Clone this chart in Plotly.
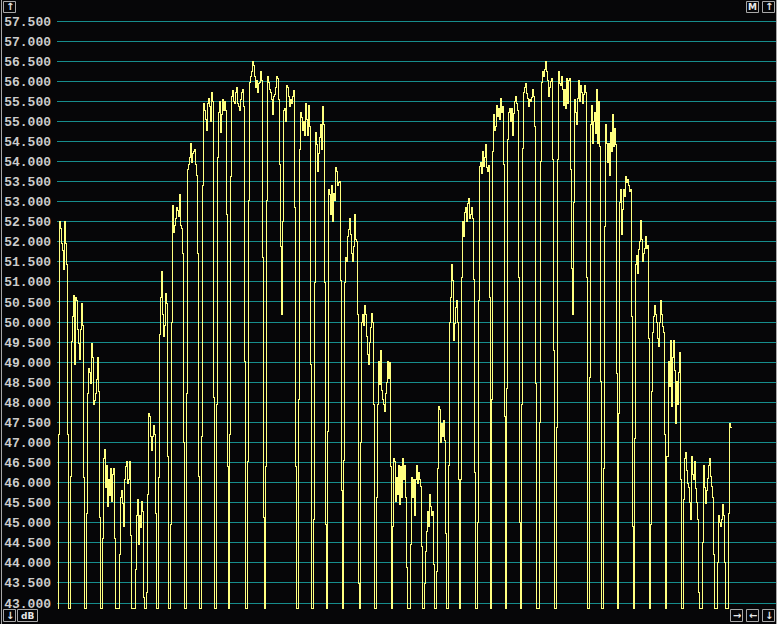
import plotly.graph_objects as go

# ---------------- data ----------------
FLOOR = 42.87          # level the trace falls to between bursts
N_CHANNELS = 674       # number of sample channels drawn

tick_values = [43.0, 43.5, 44.0, 44.5, 45.0, 45.5, 46.0, 46.5, 47.0, 47.5,
               48.0, 48.5, 49.0, 49.5, 50.0, 50.5, 51.0, 51.5, 52.0, 52.5,
               53.0, 53.5, 54.0, 54.5, 55.0, 55.5, 56.0, 56.5, 57.0, 57.5]

burst_start = [1, 13, 29, 45, 62, 78, 89, 101, 113, 129, 144, 159, 172, 190,
               208, 241, 256, 270, 286, 303, 319, 335, 353, 367, 379, 391,
               403, 420, 434, 449, 464, 482, 499, 532, 546, 561, 577, 593,
               609, 626, 645, 660, 671]

burst_level = [
    [47.19, 52.50, 52.32, 51.96, 51.79, 51.30, 52.50, 51.96, 51.43, 47.19],
    [46.16, 49.51, 50.13, 50.67, 48.93, 50.62, 50.54, 49.82, 49.46, 49.06, 49.82, 50.45, 49.91, 46.12],
    [45.22, 48.21, 48.84, 48.75, 48.48, 49.46, 49.11, 47.95, 48.04, 48.21, 48.57, 49.11, 48.26, 45.13],
    [44.60, 46.61, 46.83, 45.89, 46.43, 45.40, 46.07, 45.67, 46.34, 45.54, 46.20, 46.34, 44.60],
    [44.20, 45.62, 45.80, 45.49, 44.91, 46.07, 46.39, 46.52, 45.98, 46.07, 46.52, 44.69],
    [43.84, 45.18, 45.58, 44.46, 45.18, 44.87, 45.54, 45.27, 43.13],
    [43.26, 45.71, 47.72, 47.64, 47.14, 46.79, 47.14, 47.41, 47.19, 45.22],
    [46.12, 49.69, 50.62, 51.25, 50.18, 49.64, 49.91, 50.71, 50.45, 46.65],
    [44.96, 50.00, 52.90, 52.23, 52.41, 52.59, 52.86, 52.77, 52.63, 53.17, 52.41, 52.32, 51.70, 47.01],
    [48.21, 53.79, 53.93, 54.11, 54.46, 53.97, 54.20, 54.24, 54.29, 53.93, 53.66, 51.70, 46.16],
    [47.14, 53.39, 55.45, 55.27, 55.04, 54.78, 55.45, 55.58, 55.36, 55.00, 55.71, 55.50, 48.12],
    [47.95, 54.11, 55.22, 55.49, 54.73, 55.18, 55.54, 55.27, 55.49, 55.27, 52.68, 46.39],
    [47.19, 53.62, 55.62, 55.76, 55.49, 55.45, 55.71, 55.85, 55.45, 55.36, 55.27, 55.54, 55.71, 55.80, 55.36, 49.02],
    [46.52, 53.04, 55.98, 56.12, 56.25, 56.50, 56.38, 56.12, 55.85, 56.03, 55.71, 55.94, 55.98, 56.25, 56.03, 51.61, 45.13],
    [46.39, 53.04, 56.12, 55.98, 55.80, 55.71, 55.54, 55.18, 55.62, 55.67, 55.85, 56.12, 56.07, 55.54, 53.93,
     51.88, 50.18, 52.50, 55.27, 55.31, 55.00, 55.89, 55.85, 55.62, 55.36, 55.54, 55.45, 55.62, 55.76, 52.86, 46.39],
    [48.08, 54.29, 55.22, 55.09, 54.78, 55.00, 54.64, 55.45, 55.04, 54.64, 55.40, 54.87, 48.93],
    [45.09, 50.98, 54.73, 54.42, 53.75, 54.20, 54.60, 54.91, 54.29, 55.36, 54.91, 50.98, 44.96],
    [47.28, 53.30, 53.17, 52.68, 53.39, 52.50, 53.21, 53.04, 53.84, 53.75, 53.39, 53.48, 53.50, 51.03, 45.80],
    [46.56, 50.98, 51.61, 51.52, 52.14, 52.30, 52.59, 52.19, 51.70, 51.52, 51.88, 52.68, 52.05, 52.00, 50.18, 43.48],
    [47.01, 50.00, 50.18, 49.91, 50.40, 50.18, 49.64, 49.20, 48.93, 49.50, 49.87, 50.22, 50.00, 47.95],
    [45.62, 47.95, 49.02, 48.44, 49.29, 48.30, 48.08, 47.95, 47.77, 48.21, 48.50, 49.02, 48.60, 49.00, 46.39],
    [44.91, 46.61, 46.52, 45.54, 46.12, 45.71, 46.43, 45.45, 46.39, 45.62, 46.61, 46.07, 46.43, 45.62, 43.88],
    [44.46, 46.12, 45.62, 46.07, 45.18, 46.07, 46.43, 45.98, 46.25, 46.07, 45.90, 44.42],
    [43.48, 44.29, 44.78, 45.27, 44.91, 45.71, 45.40, 45.18, 45.27, 43.97],
    [43.79, 46.34, 47.90, 47.81, 47.01, 47.46, 47.14, 47.55, 47.05, 44.73],
    [46.43, 50.00, 50.62, 51.43, 51.03, 49.55, 49.96, 50.36, 50.54, 50.00, 46.07],
    [46.07, 51.12, 52.50, 52.14, 52.72, 52.86, 52.50, 52.95, 53.08, 52.59, 52.68, 52.86, 52.59, 51.07, 46.25],
    [45.00, 50.54, 53.88, 53.97, 53.71, 54.24, 53.88, 54.10, 54.42, 53.84, 53.75, 53.90, 50.62],
    [48.08, 54.24, 55.18, 54.78, 54.87, 55.40, 55.13, 55.31, 55.04, 55.58, 55.22, 55.36, 53.93, 47.64],
    [48.35, 54.55, 55.22, 55.31, 55.00, 55.31, 54.64, 55.20, 55.49, 55.62, 55.45, 55.27, 51.12, 45.00],
    [47.95, 54.33, 55.71, 55.85, 55.94, 55.70, 55.58, 55.36, 55.54, 55.49, 55.60, 55.80, 55.62, 54.87, 48.48],
    [47.50, 54.00, 55.98, 56.25, 56.12, 56.30, 56.50, 56.25, 56.03, 55.62, 55.85, 56.00, 56.07, 54.06, 49.29],
    [47.37, 54.06, 56.25, 55.94, 55.89, 56.12, 55.80, 55.40, 55.80, 55.31, 56.07, 55.45, 56.03, 56.07, 53.79,
     51.34, 50.18, 52.99, 55.54, 55.22, 54.91, 55.58, 56.03, 55.49, 55.89, 55.71, 55.45, 55.67, 55.89, 55.71, 51.12],
    [48.62, 54.91, 55.40, 54.46, 55.00, 55.22, 54.69, 55.80, 54.46, 55.49, 54.38, 48.53],
    [46.34, 52.37, 54.91, 54.46, 53.97, 54.46, 53.66, 54.73, 54.24, 55.18, 54.38, 54.82, 54.42, 48.71],
    [47.72, 52.99, 53.30, 52.19, 52.80, 53.30, 53.13, 53.62, 53.48, 53.55, 53.39, 53.26, 53.30, 50.13, 44.91],
    [47.10, 51.43, 51.65, 51.21, 51.80, 52.01, 52.54, 52.05, 51.52, 51.70, 51.83, 52.14, 51.83, 51.90, 49.60],
    [44.96, 48.26, 49.73, 50.13, 50.40, 50.20, 50.00, 49.60, 49.38, 50.00, 50.54, 50.18, 49.90, 49.73, 47.19],
    [46.65, 46.65, 49.02, 48.39, 49.55, 47.90, 49.11, 49.55, 48.80, 47.46, 48.53, 47.95, 48.75, 49.24, 46.07],
    [45.58, 46.61, 46.74, 46.30, 45.98, 45.89, 45.50, 45.09, 46.65, 46.20, 46.07, 46.52, 45.85, 45.50, 45.09, 43.26],
    [44.51, 46.43, 45.89, 45.49, 45.80, 46.10, 46.43, 46.61, 46.16, 45.90, 45.62, 44.20],
    [44.02, 45.18, 45.00, 44.91, 45.09, 45.45, 45.18, 44.02],
    [45.24, 47.46, 47.37],
]

button_labels_top_left = ["↑"]
button_labels_top_right = ["M", "↑"]
button_labels_bottom_left = ["↓", "dB"]
button_labels_bottom_right = ["→", "←", "↓"]

# ---------------- build the trace ----------------
level = [FLOOR] * N_CHANNELS
for s, vals in zip(burst_start, burst_level):
    for k, v in enumerate(vals):
        level[s + k] = v
xs = list(range(N_CHANNELS)) + [N_CHANNELS]
ys = level + [level[-1]]

# ---------------- layout geometry (pixels) ----------------
W, H = 777, 624
L, R, T, B = 57, 776, 14, 612
X_RANGE = [-0.5, R - L - 0.5]
PX_PER_UNIT = 40.14
Y_RANGE = [43.0 - (B - 603) / PX_PER_UNIT, 57.5 + (21 - T) / PX_PER_UNIT]

BG = "#060608"
FRAME = "#a8a8a8"


def px_x(px):
    return (px - L) / (R - L)


def px_y(py):
    return (B - py) / (B - T)


fig = go.Figure()
fig.add_trace(go.Scatter(
    x=xs, y=ys, mode="lines",
    line=dict(color="#ffff80", width=1, shape="hv"),
    hoverinfo="skip", showlegend=False,
))

shapes = []
annotations = []

# outer frame lines
for xpx in (1.5, 776.5):
    shapes.append(dict(type="line", xref="paper", yref="paper",
                       x0=px_x(xpx), x1=px_x(xpx), y0=px_y(0), y1=px_y(H),
                       line=dict(color=FRAME, width=1)))


def add_button(x0, y0, x1, y1, label, size=10):
    shapes.append(dict(type="rect", xref="paper", yref="paper",
                       x0=px_x(x0), x1=px_x(x1), y0=px_y(y1), y1=px_y(y0),
                       line=dict(color=FRAME, width=1), fillcolor=BG))
    annotations.append(dict(xref="paper", yref="paper",
                            x=px_x((x0 + x1) / 2), y=px_y((y0 + y1) / 2),
                            text="<b>%s</b>" % label, showarrow=False,
                            xanchor="center", yanchor="middle",
                            height=11, borderpad=0,
                            font=dict(family="DejaVu Sans", size=size, color="#e6e6e6")))


add_button(3.5, 1.5, 15.5, 12.5, button_labels_top_left[0])
add_button(746.5, 1.5, 758.5, 12.5, button_labels_top_right[0], 9)
add_button(762.5, 1.5, 774.5, 12.5, button_labels_top_right[1])
add_button(3.5, 609.5, 15.5, 621.5, button_labels_bottom_left[0])
add_button(17.5, 609.5, 37.5, 621.5, button_labels_bottom_left[1], 9)
add_button(730.5, 609.5, 742.5, 621.5, button_labels_bottom_right[0])
add_button(746.5, 609.5, 758.5, 621.5, button_labels_bottom_right[1])
add_button(762.5, 609.5, 774.5, 621.5, button_labels_bottom_right[2])

fig.update_layout(
    width=W, height=H,
    margin=dict(l=L, r=W - R, t=T, b=H - B, pad=0),
    paper_bgcolor=BG, plot_bgcolor=BG,
    shapes=shapes, annotations=annotations,
    xaxis=dict(range=X_RANGE, showgrid=False, zeroline=False, showline=False,
               showticklabels=False, ticks="", fixedrange=True),
    yaxis=dict(range=Y_RANGE, tickvals=tick_values,
               ticktext=["%.3f" % v for v in tick_values],
               showgrid=True, gridcolor="#168c8c", gridwidth=1,
               zeroline=False, showline=False, ticks="",
               ticklabelstandoff=5,
               tickfont=dict(family="Liberation Mono", size=13, color="#cccccc",
                             weight="bold"),
               fixedrange=True),
)

POST = """
document.body.style.margin = '0';
document.body.style.padding = '0';
document.body.style.overflow = 'hidden';
document.body.style.background = '#060608';
var fix = function () {
  document.querySelectorAll('.scatterlayer path.js-line').forEach(function (p) {
    p.style.shapeRendering = 'crispEdges';
  });
};
fix();
var gd = document.getElementsByClassName('plotly-graph-div')[0];
if (gd && gd.on) { gd.on('plotly_afterplot', fix); }
"""

fig.write_html("out.html", post_script=POST, config={"displayModeBar": False})
